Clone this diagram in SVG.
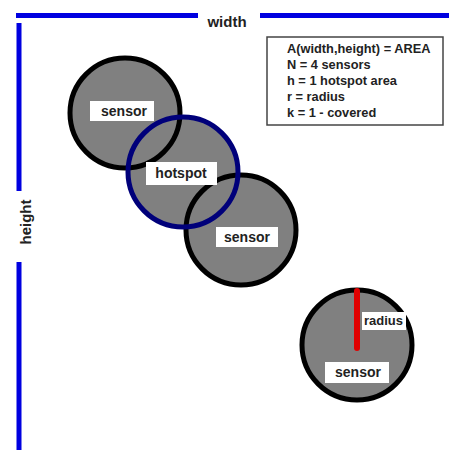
<svg xmlns="http://www.w3.org/2000/svg" width="449" height="450" viewBox="0 0 449 450">
<style>
.fill{fill:#808080;stroke:none}
.ring{fill:none;stroke:#000;stroke-width:5}
.hring{fill:none;stroke:#00007a;stroke-width:5}
.lbl{fill:#fff;stroke:none}
.t{font-family:"Liberation Sans",Arial,sans-serif;font-weight:bold;fill:#222}
.axis{stroke:#0000e0;stroke-width:5;fill:none}
</style>
<rect width="449" height="450" fill="#fff"/>
<g id="axes">
<line class="axis" x1="16" y1="15.5" x2="198" y2="15.5"/>
<line class="axis" x1="260" y1="15.5" x2="449" y2="15.5"/>
<line class="axis" x1="19" y1="23" x2="19" y2="191"/>
<line class="axis" x1="19" y1="262" x2="19" y2="450"/>
<text class="t" x="227" y="27" font-size="15" text-anchor="middle">width</text>
<text class="t" x="31" y="222" font-size="15" text-anchor="middle" transform="rotate(-90 31 222)">height</text>
</g>
<g id="hotspot-area">
<circle class="fill" cx="183" cy="172" r="55"/>
</g>
<g id="sensor1">
<circle class="fill" cx="125" cy="113" r="55"/>
<circle class="ring" cx="125" cy="113" r="55"/>
</g>
<g id="sensor2">
<circle class="fill" cx="241" cy="230" r="55"/>
<circle class="ring" cx="241" cy="230" r="55"/>
<rect class="lbl" x="216" y="227" width="62" height="20"/>
<text class="t" x="247" y="242" font-size="14" text-anchor="middle">sensor</text>
</g>
<g id="hotspot">
<circle class="hring" cx="183" cy="172" r="55"/>
<rect class="lbl" x="146" y="162" width="71" height="23"/>
<text class="t" x="181" y="178" font-size="14" text-anchor="middle">hotspot</text>
</g>
<g id="sensor1-label">
<rect class="lbl" x="90" y="101" width="64" height="20"/>
<text class="t" x="124" y="116" font-size="14" text-anchor="middle">sensor</text>
</g>
<g id="sensor3">
<circle class="fill" cx="357" cy="345" r="55"/>
<circle class="ring" cx="357" cy="345" r="55"/>
<rect class="lbl" x="325" y="362" width="64" height="21"/>
<text class="t" x="358" y="377" font-size="14" text-anchor="middle">sensor</text>
</g>
<g id="connectors">
<line x1="357" y1="291" x2="357" y2="348" stroke="#e00000" stroke-width="6" stroke-linecap="round"/>
</g>
<g id="radius-label">
<rect class="lbl" x="362" y="312" width="44" height="18"/>
<text class="t" x="383.5" y="325" font-size="13" text-anchor="middle">radius</text>
</g>
<g id="legend">
<rect x="267" y="37" width="176" height="88" fill="#fff" stroke="#444" stroke-width="1.5"/>
<text class="t" font-size="12.8" x="287" y="53">A(width,height) = AREA</text>
<text class="t" font-size="12.8" x="287" y="69">N = 4 sensors</text>
<text class="t" font-size="12.8" x="287" y="85">h = 1 hotspot area</text>
<text class="t" font-size="12.8" x="287" y="101">r = radius</text>
<text class="t" font-size="12.8" x="287" y="117">k = 1 - covered</text>
</g>
</svg>
